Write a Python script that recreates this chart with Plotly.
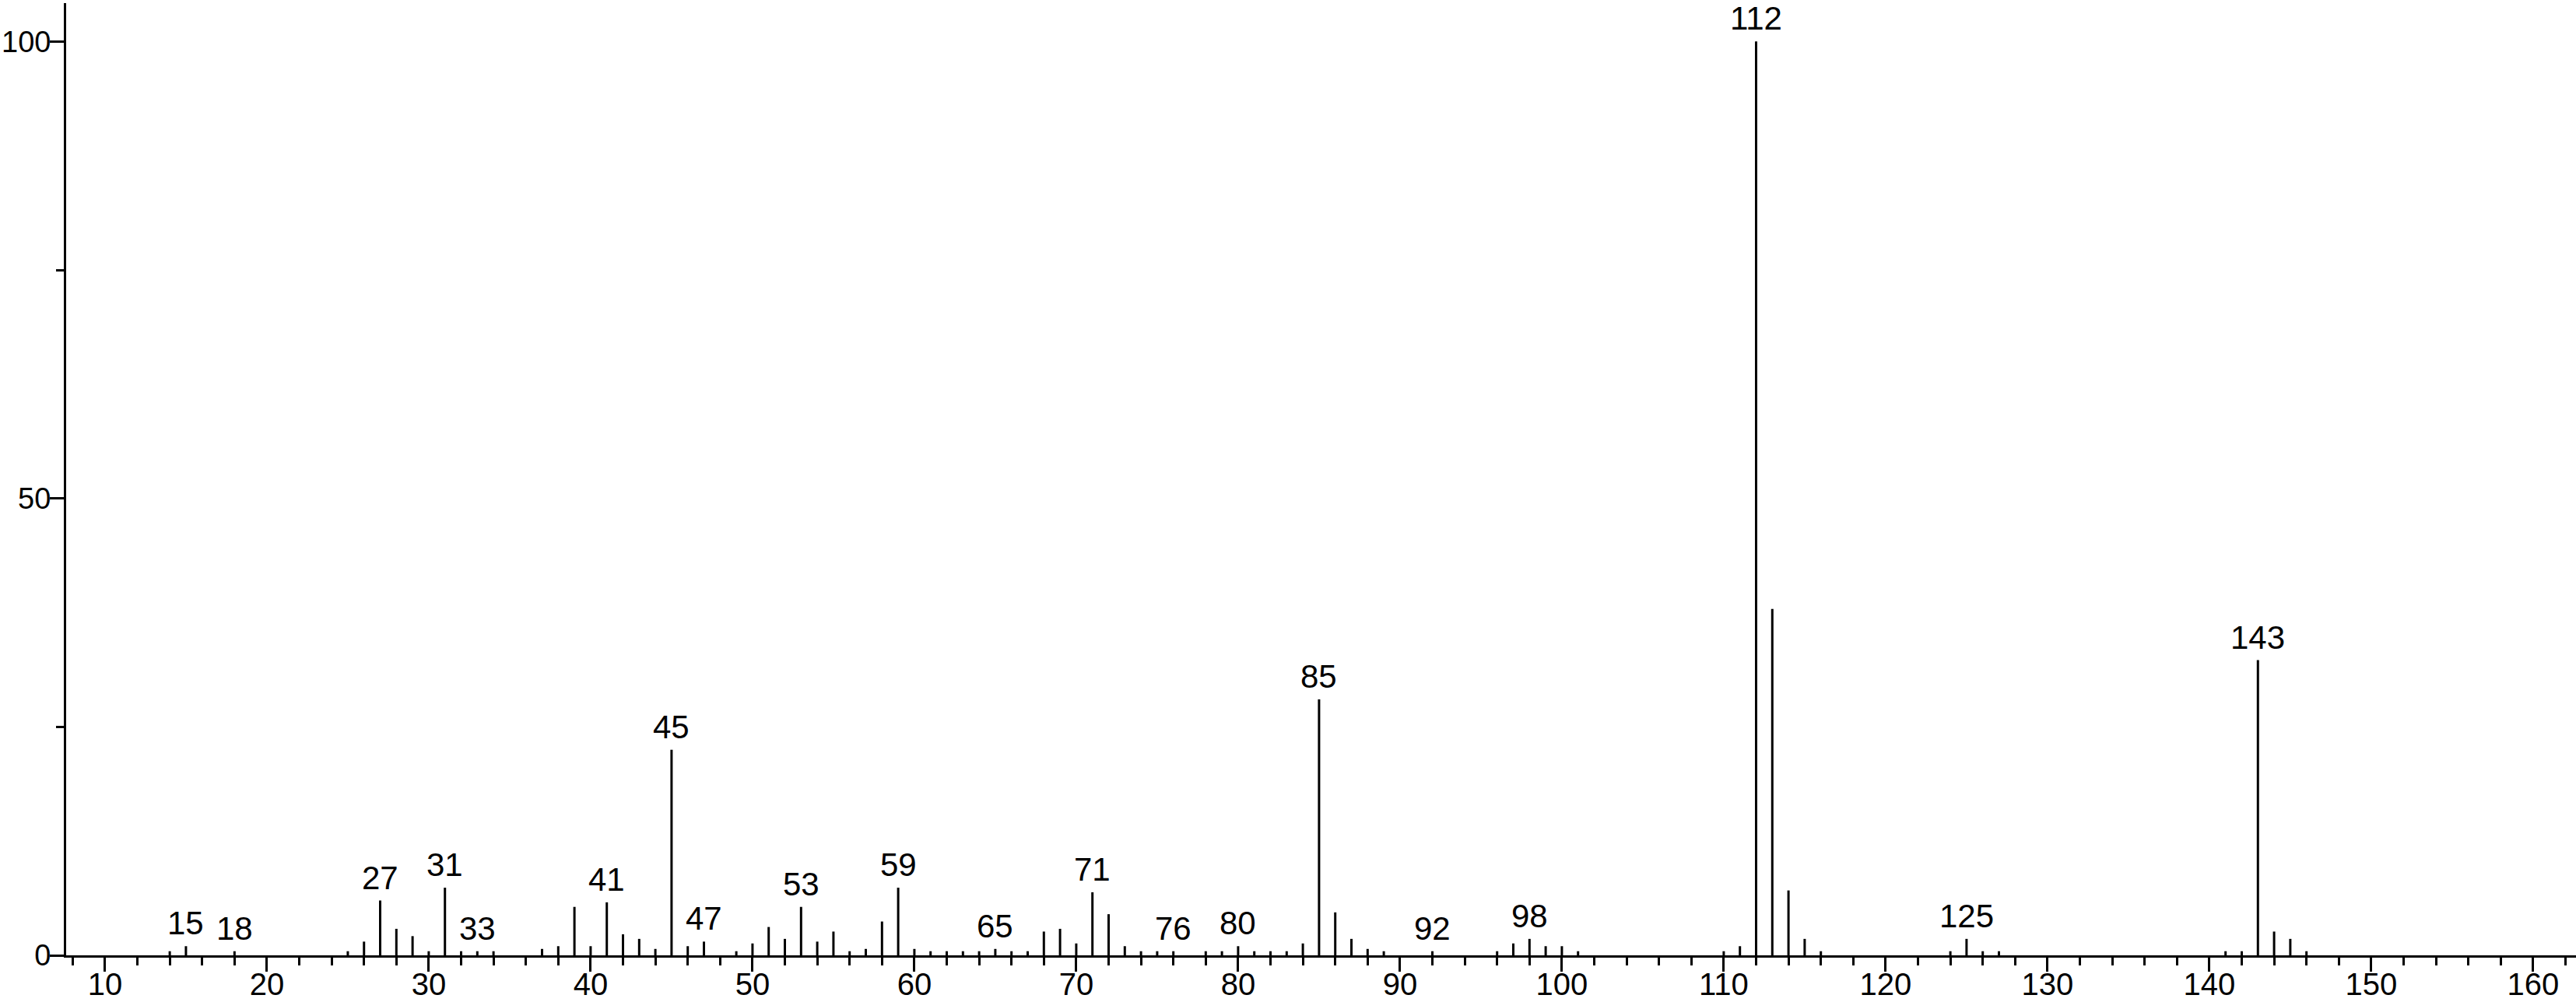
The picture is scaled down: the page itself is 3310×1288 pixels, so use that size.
import plotly.graph_objects as go

# Mass spectrum: m/z and relative intensity (%)
MZ = [14, 15, 18, 25, 26, 27, 28, 29, 30, 31, 32, 33, 34, 37, 38, 39, 40, 41, 42, 43,
      44, 45, 46, 47, 49, 50, 51, 52, 53, 54, 55, 56, 57, 58, 59, 60, 61, 62, 63, 64,
      65, 66, 67, 68, 69, 70, 71, 72, 73, 74, 75, 76, 78, 79, 80, 81, 82, 83, 84, 85,
      86, 87, 88, 89, 92, 96, 97, 98, 99, 100, 101, 110, 111, 112, 113, 114, 115, 116,
      124, 125, 126, 127, 141, 142, 143, 144, 145, 146]
INTENSITY = [0.45, 1.0, 0.45, 0.45, 1.5, 6.0, 2.9, 2.1, 0.45, 7.4, 0.45, 0.45, 0.45, 0.7, 1.0, 5.3, 1.0, 5.8, 2.3, 1.8,
             0.7, 22.5, 1.0, 1.5, 0.45, 1.3, 3.1, 1.8, 5.3, 1.5, 2.6, 0.45, 0.7, 3.7, 7.4, 0.7, 0.45, 0.45, 0.45, 0.45,
             0.7, 0.45, 0.45, 2.6, 2.9, 1.3, 6.9, 4.5, 1.0, 0.45, 0.45, 0.45, 0.45, 0.45, 1.0, 0.45, 0.45, 0.45, 1.3, 28.0,
             4.7, 1.8, 0.7, 0.45, 0.45, 0.45, 1.3, 1.8, 1.0, 1.0, 0.45, 0.45, 1.0, 100.0, 37.9, 7.1, 1.8, 0.45,
             0.45, 1.8, 0.45, 0.45, 0.45, 0.45, 32.3, 2.6, 1.8, 0.45]

# peaks that carry an m/z label
LABELED = [15, 18, 27, 31, 33, 41, 45, 47, 53, 59, 65, 71, 76, 80, 85, 92, 98, 112, 125, 143]

X_TICKS = list(range(10, 161, 10))
Y_TICKS = [0, 50, 100]

FONT = "'Liberation Sans', Arial, sans-serif"
FONT_SIZE = 40

fig = go.Figure()

# stick spectrum
stem_x, stem_y = [], []
for mz, inten in zip(MZ, INTENSITY):
    stem_x += [mz, mz, None]
    stem_y += [0, inten, None]

fig.add_trace(
    go.Scatter(
        x=stem_x,
        y=stem_y,
        mode="lines",
        line=dict(color="black", width=3),
        hoverinfo="skip",
        showlegend=False,
    )
)

lookup = dict(zip(MZ, INTENSITY))
for mz in LABELED:
    fig.add_annotation(
        x=mz,
        y=lookup[mz],
        text=str(mz),
        showarrow=False,
        yanchor="bottom",
        xanchor="center",
        yshift=4,
        font=dict(family=FONT, size=42, color="black"),
    )

fig.update_layout(
    width=3310,
    height=1288,
    plot_bgcolor="white",
    paper_bgcolor="white",
    margin=dict(l=85, r=0, t=4, b=60),
    font=dict(family=FONT, size=FONT_SIZE, color="black"),
    showlegend=False,
)

fig.update_xaxes(
    range=[7.6, 162.65],
    automargin=False,
    showgrid=False,
    zeroline=False,
    showline=True,
    linecolor="black",
    linewidth=3,
    ticks="outside",
    ticklen=18,
    tickwidth=3,
    tickcolor="black",
    tickvals=X_TICKS,
    ticktext=[str(v) for v in X_TICKS],
    ticklabelstandoff=-18,
    minor=dict(dtick=2, tick0=0, ticks="outside", ticklen=10, tickwidth=3, tickcolor="black"),
)

fig.update_yaxes(
    range=[0, 104.2],
    automargin=False,
    showgrid=False,
    zeroline=False,
    showline=True,
    linecolor="black",
    linewidth=3,
    ticks="outside",
    ticklen=18,
    tickwidth=3,
    tickcolor="black",
    tickvals=Y_TICKS,
    ticktext=[str(v) for v in Y_TICKS],
    tickfont=dict(size=38),
    ticklabelstandoff=-9,
    minor=dict(dtick=25, tick0=0, ticks="outside", ticklen=10, tickwidth=3, tickcolor="black"),
)

# drop the browser's default body margin so the figure sits at the page corner
fig.write_html(
    "out.html",
    config={"displayModeBar": False},
    post_script="document.body.style.margin = '0';",
)
